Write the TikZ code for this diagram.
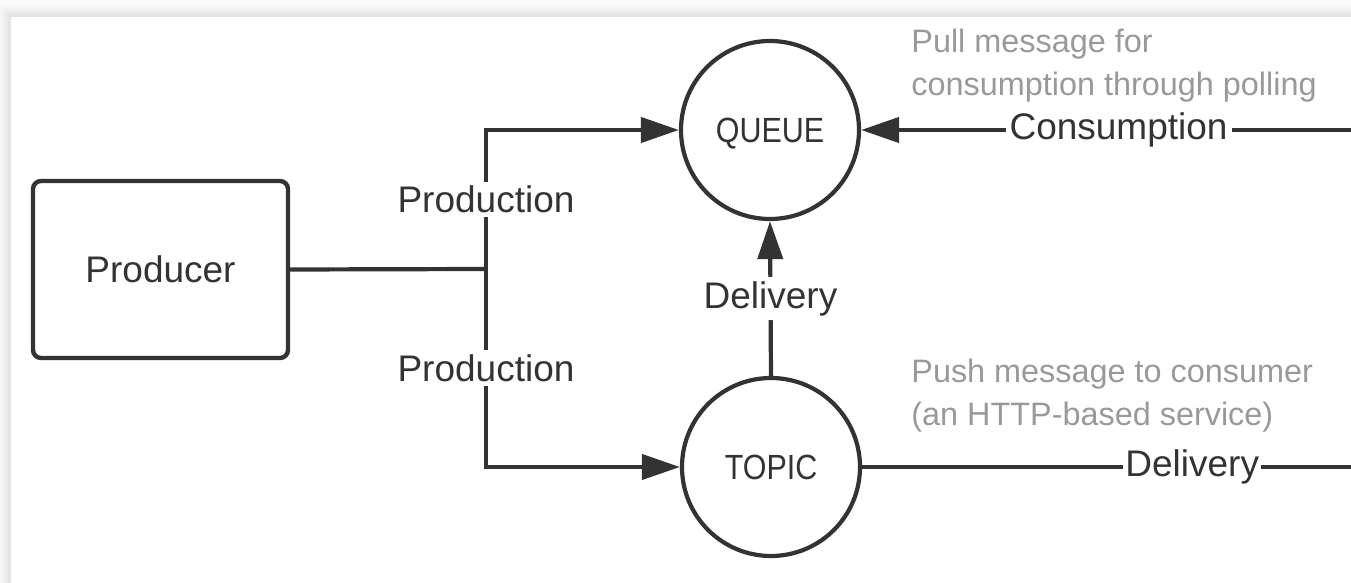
\documentclass[tikz,border=0pt]{standalone}
\usepackage{fontspec}
\setmainfont{Liberation Sans}
\newfontfamily\storefont[FakeStretch=0.87]{Liberation Sans}
\usetikzlibrary{arrows.meta}
\definecolor{ink}{HTML}{333333}
\definecolor{note}{HTML}{999999}
\tikzset{
	flow/.style={line width=2.1pt, draw=ink},
	flowarrow/.style={flow, -{Triangle[length=19pt,width=12.5pt]}},
	store/.style={circle, draw=ink, line width=2.1pt, minimum size=89pt, inner sep=0pt, text=ink, text height=12.5pt, text depth=0pt, font=\storefont\fontsize{17.5}{20}\selectfont},
	lbl/.style={fill=white, text=ink, inner sep=2pt, font=\fontsize{18.5}{22}\selectfont},
	hint/.style={text=note, align=left, inner sep=0pt, font=\fontsize{16.2}{21.5}\selectfont},
}

\begin{document}
\begin{tikzpicture}[x=0.5pt, y=-0.5pt]
			%%%%% START %%%%%
			\useasboundingbox (0, 0) rectangle (1351, 583);
			
			% page and card shadow
			\fill[black!2] (0, 0) rectangle (1351, 583);
			\foreach \d in {1,...,12}
				\fill[black, opacity=0.008] (11-\d, 17-\d) rectangle (1351, 583);
			\fill[white] (11, 17) rectangle (1351, 583);
			
			% boxes
			\node[draw=ink, line width=2.2pt, rounded corners=4pt, minimum width=127.5pt, minimum height=88.5pt, text=ink, font=\fontsize{18.5}{22}\selectfont] (producer) at (160.5, 269.5) {Producer};
			\node[store] (queue) at (770, 130) {QUEUE};
			\node[store] (topic) at (771, 467) {TOPIC};
			
			\coordinate (split) at (486, 269);
			\coordinate (consumer) at (1360, 130);
			\coordinate (pushend) at (1360, 467);
			
			% production
			\draw[flow] (producer.east) -- (split);
			\draw[flowarrow] (split) |- node[lbl, pos=0.25] {Production} (queue.west);
			\draw[flowarrow] (split) |- node[lbl, pos=0.25] {Production} (topic.west);
			
			% delivery and consumption
			\draw[flowarrow] (topic.north) -- node[lbl] {Delivery} (queue.south);
			\draw[flowarrow] (consumer) -- node[lbl, pos=0.484] {Consumption} (queue.east);
			\draw[flow] (topic.east) -- node[lbl, inner sep=1pt, pos=0.663] {Delivery} (pushend);
			
			% notes
			\node[hint, anchor=north west] (pullnote) at (911, 29) {Pull message for\\consumption through polling};
			\node[hint, anchor=north west] (pushnote) at (911, 359) {Push message to consumer\\(an HTTP-based service)};
			%%%%% END %%%%%
\end{tikzpicture}
\end{document}
